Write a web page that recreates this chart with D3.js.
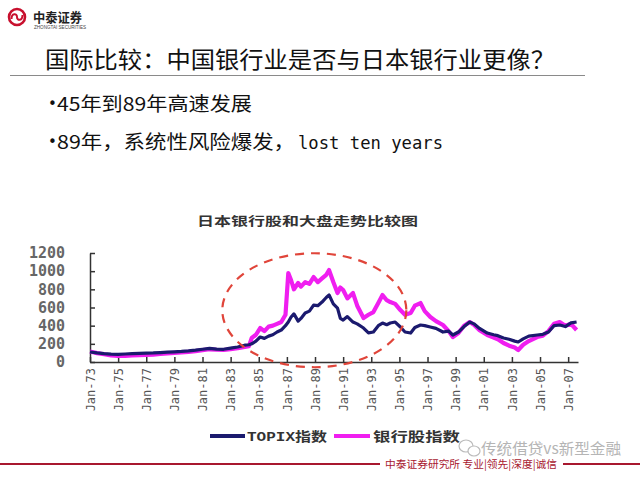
<!DOCTYPE html>
<html><head><meta charset="utf-8">
<script src="https://cdn.jsdelivr.net/npm/d3@7"></script>
<style>body{margin:0;background:#fff} svg{display:block}</style>
</head><body>
<svg id="c" width="640" height="480"></svg>
<script>
// ---------- data ----------
const years = [1973.0,1973.5,1974.0,1974.5,1975.0,1975.5,1976.0,1976.5,1977.0,1977.5,
  1978.0,1978.5,1979.0,1979.5,1980.0,1980.5,1981.0,1981.5,1982.0,1982.5,
  1983.0,1983.5,1984.0,1984.3,1984.5,1984.8,1985.1,1985.4,1985.7,1986.0,
  1986.3,1986.6,1986.9,1987.1,1987.3,1987.5,1987.8,1988.0,1988.3,1988.6,
  1988.9,1989.2,1989.5,1989.8,1990.0,1990.3,1990.6,1990.8,1991.0,1991.3,
  1991.7,1992.0,1992.45,1992.8,1993.15,1993.5,1993.8,1994.1,1994.35,1994.7,
  1995.07,1995.4,1995.8,1996.1,1996.5,1996.8,1997.2,1997.6,1998.1,1998.5,
  1998.8,1999.2,1999.6,2000.0,2000.3,2000.7,2001.25,2001.7,2002.0,2002.4,
  2002.8,2003.2,2003.45,2003.8,2004.2,2004.8,2005.2,2005.6,2006.0,2006.4,
  2006.8,2007.2,2007.6];
const topix = [110,100,92,86,85,88,92,95,98,100,
  104,108,112,116,122,130,140,150,142,140,
  152,165,185,190,200,230,275,260,285,300,
  330,352,400,440,495,530,450,480,540,560,
  627,620,660,710,737,640,594,480,462,500,
  440,420,374,320,330,400,429,410,429,440,
  385,330,319,380,407,400,385,370,330,340,
  297,330,390,440,420,370,319,300,290,264,
  250,230,220,255,285,297,305,330,400,407,
  390,430,440];
const bank = [115,98,85,72,66,68,72,75,78,82,
  88,95,100,105,112,120,130,140,135,132,
  142,152,165,175,264,300,374,340,390,400,
  420,440,520,979,900,800,870,830,880,860,
  935,880,920,960,1012,880,759,820,792,700,
  759,620,484,520,550,650,737,680,660,640,
  572,520,539,620,649,560,495,450,407,340,
  275,320,400,440,410,350,297,270,250,209,
  180,160,132,190,230,275,290,340,420,440,
  400,420,352];
const seriesNames = ["TOPIX指数", "银行股指数"];
const xTickYears = [1973,1975,1977,1979,1981,1983,1985,1987,1989,1991,1993,1995,1997,1999,2001,2003,2005,2007];
const xTickLabels = ["Jan-73","Jan-75","Jan-77","Jan-79","Jan-81","Jan-83","Jan-85","Jan-87","Jan-89","Jan-91","Jan-93","Jan-95","Jan-97","Jan-99","Jan-01","Jan-03","Jan-05","Jan-07"];
const yTicks = [0,200,400,600,800,1000,1200];
const titleText = "国际比较：中国银行业是否与日本银行业更像？";
const bullet1 = "45年到89年高速发展";
const bullet2a = "89年，系统性风险爆发，";
const bullet2b = "lost ten years";
const chartTitle = "日本银行股和大盘走势比较图";
const footerText = "中泰证券研究所 专业|领先|深度|诚信";
const watermark = "传统借贷vs新型金融";

// ---------- drawing ----------
const svg = d3.select("#c");
const CJK = "'Noto Sans CJK SC', sans-serif";
const RED = "#a8182f";

// header logo
const logo = svg.append("g");
logo.append("circle").attr("cx",17).attr("cy",17).attr("r",8).attr("fill","none").attr("stroke","#c8102e").attr("stroke-width",2.6);
logo.append("path").attr("d","M11.5,19 C11.5,13 17,13 17,17 C17,21 22.5,21 22.5,15").attr("fill","none").attr("stroke","#c8102e").attr("stroke-width",2);
svg.append("text").attr("x",33).attr("y",22).attr("font-family",CJK).attr("font-weight",700).attr("font-size",13)
  .attr("textLength",49).attr("lengthAdjust","spacingAndGlyphs").attr("fill","#222").text("中泰证券");
svg.append("text").attr("x",34).attr("y",28.5).attr("font-family","Liberation Sans, sans-serif").attr("font-size",4.6)
  .attr("textLength",52).attr("lengthAdjust","spacingAndGlyphs").attr("fill","#444").text("ZHONGTAI SECURITIES");

// title
svg.append("text").attr("x",45).attr("y",68).attr("font-family",CJK).attr("font-size",23)
  .attr("textLength",510).attr("lengthAdjust","spacingAndGlyphs").attr("fill","#111").text(titleText);
svg.append("line").attr("x1",10).attr("x2",585).attr("y1",75.5).attr("y2",75.5).attr("stroke","#8a8a8a").attr("stroke-width",1);

// bullets
[111,149].forEach(by=>{
  svg.append("text").attr("x",48).attr("y",by-2).attr("font-family","DejaVu Sans, sans-serif").attr("font-size",15).attr("fill","#111").text("•");
});
svg.append("text").attr("x",57).attr("y",111).attr("font-family",CJK).attr("font-size",19)
  .attr("textLength",195).attr("lengthAdjust","spacingAndGlyphs").attr("fill","#111").text(bullet1);
svg.append("text").attr("x",57).attr("y",149).attr("font-family",CJK).attr("font-size",19)
  .attr("textLength",238).attr("lengthAdjust","spacingAndGlyphs").attr("fill","#111").text(bullet2a);
svg.append("text").attr("x",298).attr("y",149).attr("font-family","'DejaVu Sans Mono', monospace").attr("font-size",17)
  .attr("textLength",145).attr("lengthAdjust","spacingAndGlyphs").attr("fill","#111").text(bullet2b);

// chart title
svg.append("text").attr("x",197).attr("y",226).attr("font-family",CJK).attr("font-weight",700).attr("font-size",12)
  .attr("textLength",221).attr("lengthAdjust","spacingAndGlyphs").attr("fill","#333").text(chartTitle);

// scales
const x = d3.scaleLinear().domain([1973, 2007.7]).range([90, 578]);
const y = d3.scaleLinear().domain([0, 1200]).range([362, 253]);

// axes
const gx = svg.append("g").attr("transform","translate(0,362)")
  .call(d3.axisBottom(x).tickValues(xTickYears).tickFormat((d,i)=>xTickLabels[i]).tickSizeInner(-5).tickSizeOuter(0));
gx.selectAll("path,line").attr("stroke","#333").attr("stroke-width",1.5);
gx.selectAll("text").attr("transform","rotate(-90)").attr("x",-6).attr("y",0).attr("dy","0.35em")
  .attr("text-anchor","end").attr("font-family","'DejaVu Sans Mono', monospace").attr("font-size",12).attr("fill","#555");

const gy = svg.append("g").attr("transform","translate(90,0)")
  .call(d3.axisLeft(y).tickValues(yTicks).tickFormat(d3.format("d")).tickSizeInner(-5).tickSizeOuter(0).tickPadding(25));
gy.selectAll("path,line").attr("stroke","#333").attr("stroke-width",1.5);
gy.selectAll("text").attr("font-family","'DejaVu Sans Mono', monospace").attr("font-weight",700).attr("font-size",15).attr("fill","#666");

// lines
const line = d3.line().x((d,i)=>x(years[i])).y(d=>y(d));
svg.append("path").datum(bank).attr("d",line).attr("fill","none").attr("stroke","#f01ef0").attr("stroke-width",4.2).attr("stroke-linejoin","round");
svg.append("path").datum(topix).attr("d",line).attr("fill","none").attr("stroke","#1b1a6e").attr("stroke-width",3.2).attr("stroke-linejoin","round");

// dashed ellipse highlight
svg.append("ellipse").attr("cx",x(1988.95)).attr("cy",y(570)).attr("rx",92).attr("ry",57)
  .attr("fill","none").attr("stroke","#e0453a").attr("stroke-width",2.2).attr("stroke-dasharray","9,7");

// legend
const legend = [{name:seriesNames[0],color:"#1b1a6e",x1:210,x2:245,tx:247,tl:80},
                {name:seriesNames[1],color:"#f01ef0",x1:334,x2:370,tx:373,tl:87}];
legend.forEach(l=>{
  svg.append("line").attr("x1",l.x1).attr("x2",l.x2).attr("y1",436).attr("y2",436).attr("stroke",l.color).attr("stroke-width",4);
  svg.append("text").attr("x",l.tx).attr("y",441).attr("font-family","'Liberation Mono', 'Noto Sans CJK SC', monospace").attr("font-weight",700)
    .attr("font-size",13).attr("textLength",l.tl).attr("lengthAdjust","spacingAndGlyphs").attr("fill","#333").text(l.name);
});

// watermark
const wm = svg.append("g").attr("fill","none").attr("stroke","#bbb").attr("stroke-width",1.2);
wm.append("ellipse").attr("cx",466).attr("cy",446).attr("rx",7).attr("ry",6);
wm.append("ellipse").attr("cx",474).attr("cy",451).attr("rx",6).attr("ry",5).attr("fill","#fff");
svg.append("text").attr("x",481).attr("y",454).attr("font-family",CJK).attr("font-size",15)
  .attr("textLength",140).attr("lengthAdjust","spacingAndGlyphs").attr("fill","#b5b5b5").text(watermark);

// footer
svg.append("line").attr("x1",0).attr("x2",380).attr("y1",464).attr("y2",464).attr("stroke",RED).attr("stroke-width",2);
svg.append("line").attr("x1",563).attr("x2",640).attr("y1",464).attr("y2",464).attr("stroke",RED).attr("stroke-width",2);
svg.append("text").attr("x",385).attr("y",468).attr("font-family",CJK).attr("font-size",10.5)
  .attr("textLength",172).attr("lengthAdjust","spacingAndGlyphs").attr("fill",RED).text(footerText);
</script>
</body></html>
